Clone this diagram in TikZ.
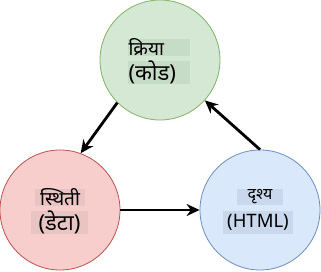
\documentclass[tikz,border=0pt]{standalone}
\usepackage{fontspec}
\setmainfont[Script=Devanagari]{Noto Sans}
\usepackage{tikz}
\usetikzlibrary{arrows.meta}
\definecolor{kriyafill}{HTML}{D5E8D4}
\definecolor{kriyadraw}{HTML}{82B366}
\definecolor{kriyahl}{HTML}{C7DCC6}
\definecolor{sthitifill}{HTML}{F8CECC}
\definecolor{sthitidraw}{HTML}{B85450}
\definecolor{sthitihl}{HTML}{E8C4C3}
\definecolor{drishyafill}{HTML}{DAE8FC}
\definecolor{drishyadraw}{HTML}{6C8EBF}
\definecolor{drishyahl}{HTML}{C9D8EC}

\begin{document}
\begin{tikzpicture}[
    x=1pt, y=1pt,
    >={Stealth[length=13pt, width=12pt]},
    chakra/.style={circle, draw, line width=0.8pt, minimum size=120pt, inner sep=0pt},
    pankti/.style={inner sep=0pt, anchor=center},
    chhota/.style={pankti, font=\fontsize{19}{19}\selectfont},
    bada/.style={pankti, font=\fontsize{22}{22}\selectfont},
    teer/.style={->, line width=2.8pt}
  ]
    \useasboundingbox (0,0) rectangle (321,271);

    % --- teen vritt ---
    \node[chakra, fill=kriyafill, draw=kriyadraw] (kriya) at (160,211) {};
    \node[chakra, fill=sthitifill, draw=sthitidraw] (sthiti) at (60,61) {};
    \node[chakra, fill=drishyafill, draw=drishyadraw] (drishya) at (260,61) {};

    % --- kriya ke shabd ---
    \node[chhota, fill=kriyahl, minimum width=62pt, minimum height=17pt,
          text width=61pt, align=left] (k1) at (159,223.5) {क्रिया};
    \node[bada, fill=kriyahl, minimum width=62pt, minimum height=23pt,
          text width=61pt, align=left] (k2) at (159,198.5) {(कोड)};

    % --- sthiti ke shabd ---
    \node[chhota, fill=sthitihl, minimum width=50pt, minimum height=17pt] (s1)
      at (60,73.5) {स्थिती};
    \node[bada, fill=sthitihl, minimum width=57pt, minimum height=21pt] (s2)
      at (59.5,48.5) {(डेटा)};

    % --- drishya ke shabd ---
    \node[chhota, fill=drishyahl, minimum width=46pt, minimum height=16pt,
          font=\fontsize{16}{16}\selectfont] (d1) at (260,74) {दृश्य};
    \node[pankti, fill=drishyahl, minimum width=70pt, minimum height=23pt,
          font=\fontsize{18.5}{18.5}\selectfont] (d2) at (258,48.5) {(HTML)};

    % --- teer ---
    \draw[teer] (kriya.225.7) -- (sthiti.70.7);
    \draw[teer] (sthiti.east) -- (drishya.west);
    \draw[teer] (drishya.north) -- (kriya.-42.5);

\end{tikzpicture}
\end{document}
